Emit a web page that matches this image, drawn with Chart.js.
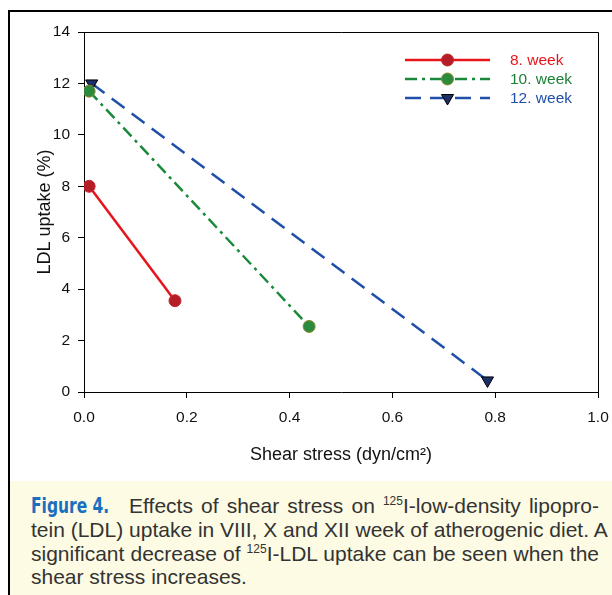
<!DOCTYPE html>
<html>
<head>
<meta charset="utf-8">
<script src="https://cdn.jsdelivr.net/npm/chart.js@4.4.1/dist/chart.umd.min.js"></script>
<style>
  html, body { margin: 0; padding: 0; background: #fff; }
  body { width: 612px; height: 595px; position: relative; overflow: hidden; font-family: "Liberation Sans", Arial, sans-serif; }
  #wrap { position: absolute; left: 0; top: 0; width: 612px; height: 480px; }
  #frameL { position: absolute; left: 8px; top: 10px; width: 2px; height: 585px; background: #000; }
  #frameT { position: absolute; left: 8px; top: 10px; width: 604px; height: 2px; background: #000; }
  #caption { position: absolute; left: 10px; top: 481px; width: 602px; height: 114px; background: #fdfbe3; }
  #caption .txt { position: absolute; left: 21px; top: 13px; width: 568px; font-size: 21px; line-height: 23.4px; color: #333; }
  #caption .ln { white-space: nowrap; text-align: justify; text-align-last: justify; }
  #caption .ln.last { text-align-last: left; }
  .fig { display: inline-block; font-family: "DejaVu Sans Condensed", "DejaVu Sans", sans-serif; font-weight: bold; font-size: 21px; color: #1a6fc0; transform: scaleX(0.82); transform-origin: left center; width: 76px; margin-right: 14px; }
  sup { font-size: 12px; vertical-align: 8px; line-height: 0; }
</style>
</head>
<body>
<div id="wrap"><canvas id="chart" width="612" height="480"></canvas></div>
<div id="caption"><div class="txt">
  <div class="ln"><span class="fig">Figure 4.</span> Effects of shear stress on <sup>125</sup>I-low-density lipopro-</div>
  <div class="ln">tein (LDL) uptake in VIII, X and XII week of atherogenic diet. A</div>
  <div class="ln">significant decrease of <sup>125</sup>I-LDL uptake can be seen when the</div>
  <div class="ln last">shear stress increases.</div>
</div></div>
<div id="frameL"></div>
<div id="frameT"></div>
<script>
const seriesLabels = ["8. week", "10. week", "12. week"];
const shear8 = [0.01, 0.177];
const uptake8 = [8.0, 3.55];
const shear10 = [0.01, 0.438];
const uptake10 = [11.7, 2.55];
const shear12 = [0.015, 0.785];
const uptake12 = [12.0, 0.45];
const xTickStep = 0.2;
const yTickStep = 2;

const toPoints = (xs, ys) => xs.map((x, i) => ({ x, y: ys[i] }));
const FONT = "'Liberation Sans', Arial, sans-serif";

// box on top and right of the plot area
const boxPlugin = {
  id: "box",
  afterDraw(chart) {
    const { ctx, chartArea: a } = chart;
    ctx.save();
    ctx.strokeStyle = "#000";
    ctx.lineWidth = 1;
    ctx.beginPath();
    ctx.moveTo(a.left, a.top + 0.5);
    ctx.lineTo(a.right + 0.5, a.top + 0.5);
    ctx.lineTo(a.right + 0.5, a.bottom);
    ctx.stroke();
    ctx.restore();
  }
};

// legend inside the plot: line + marker, coloured text
const legendPlugin = {
  id: "insideLegend",
  afterDraw(chart) {
    const { ctx } = chart;
    const x0 = 405, x1 = 490, tx = 510;
    const rows = [60, 79, 98];
    ctx.save();
    chart.data.datasets.forEach((ds, i) => {
      const y = rows[i];
      ctx.strokeStyle = ds.borderColor;
      ctx.lineWidth = ds.borderWidth;
      ctx.setLineDash(ds.borderDash || []);
      ctx.beginPath();
      ctx.moveTo(x0, y);
      ctx.lineTo(x1, y);
      ctx.stroke();
      ctx.setLineDash([]);
      ctx.fillStyle = ds.pointBackgroundColor;
      ctx.strokeStyle = ds.pointBorderColor;
      ctx.lineWidth = ds.pointBorderWidth;
      Chart.helpers.drawPoint(ctx, {
        pointStyle: ds.pointStyle, rotation: ds.pointRotation || 0,
        radius: ds.pointRadius, borderWidth: ds.pointBorderWidth
      }, (x0 + x1) / 2, y);
      ctx.fillStyle = ds.labelColor;
      ctx.font = "15.5px " + FONT;
      ctx.textBaseline = "middle";
      ctx.fillText(ds.label, tx, y + 1);
    });
    ctx.restore();
  }
};

new Chart(document.getElementById("chart"), {
  type: "scatter",
  data: {
    datasets: [
      {
        label: seriesLabels[0], data: toPoints(shear8, uptake8), showLine: true,
        borderColor: "#e8141c", borderWidth: 2.5, labelColor: "#e8141c",
        pointStyle: "circle", pointRadius: 6, pointBackgroundColor: "#b51d26",
        pointBorderColor: "#c4262e", pointBorderWidth: 1
      },
      {
        label: seriesLabels[1], data: toPoints(shear10, uptake10), showLine: true,
        borderColor: "#1a8a3a", borderWidth: 2.5, borderDash: [12, 5, 3, 5], labelColor: "#1a7f35",
        pointStyle: "circle", pointRadius: 6, pointBackgroundColor: "#2a8a3e",
        pointBorderColor: "#8c8a2c", pointBorderWidth: 1
      },
      {
        label: seriesLabels[2], data: toPoints(shear12, uptake12), showLine: true,
        borderColor: "#1f4fa8", borderWidth: 2.5, borderDash: [16, 9], labelColor: "#1f4fa8",
        pointStyle: "triangle", pointRotation: 180, pointRadius: 7, pointBackgroundColor: "#1c2f66",
        pointBorderColor: "#000", pointBorderWidth: 1
      }
    ]
  },
  options: {
    responsive: false,
    animation: false,
    layout: { padding: { left: 30, right: 14, top: 32, bottom: 10 } },
    plugins: { legend: { display: false }, tooltip: { enabled: false } },
    scales: {
      x: {
        type: "linear", min: 0, max: 1,
        afterFit: s => { s.height = 78; s.paddingLeft = 0; s.paddingRight = 0; },
        ticks: { stepSize: xTickStep, color: "#111", padding: 10, font: { size: 15.5, family: FONT }, callback: v => v.toFixed(1) },
        grid: { display: true, drawOnChartArea: false, drawTicks: true, tickLength: 6, color: "#000" },
        border: { display: true, color: "#000", width: 1 },
        title: { display: true, text: "Shear stress (dyn/cm\u00b2)", color: "#111", font: { size: 18, family: FONT } }
      },
      y: {
        type: "linear", min: 0, max: 14,
        afterFit: s => { s.width = 54; s.paddingTop = 0; s.paddingBottom = 0; },
        ticks: { stepSize: yTickStep, color: "#111", padding: 8, font: { size: 15.5, family: FONT } },
        grid: { display: true, drawOnChartArea: false, drawTicks: true, tickLength: 6, color: "#000" },
        border: { display: true, color: "#000", width: 1 },
        title: { display: true, text: "LDL uptake (%)", color: "#111", font: { size: 18, family: FONT } }
      }
    }
  },
  plugins: [boxPlugin, legendPlugin]
});
</script>
</body>
</html>
